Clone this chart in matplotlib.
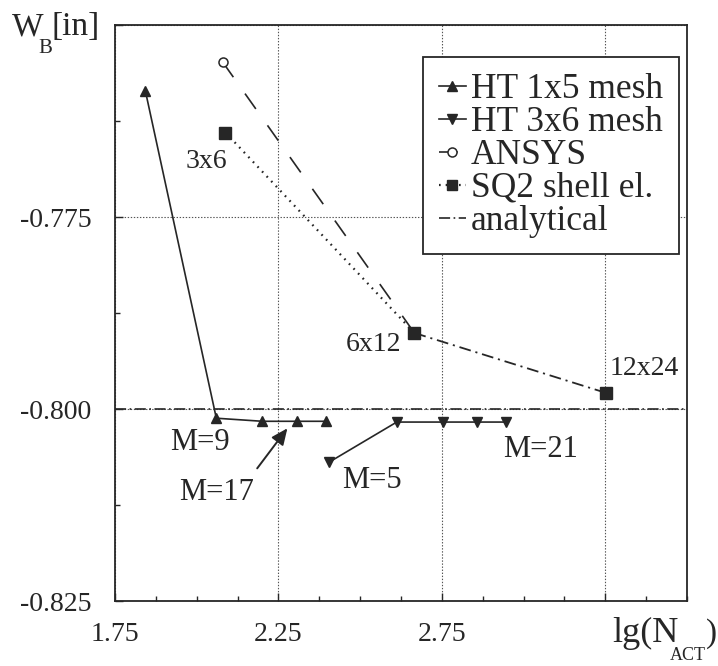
import matplotlib
matplotlib.use("Agg")
import matplotlib.pyplot as plt
from matplotlib.ticker import FixedLocator, FixedFormatter, MultipleLocator
from matplotlib.transforms import offset_copy

plt.rcParams['font.family'] = ['Liberation Serif', 'DejaVu Serif']
plt.rcParams['lines.scale_dashes'] = False

# ---- data -------------------------------------------------------------
ht15_lgn = [1.843, 2.060, 2.201, 2.308, 2.395]
ht15_w = [-0.7586, -0.8012, -0.8016, -0.8016, -0.8016]
ht15_tags = {1: "M=9"}

ht36_lgn = [2.406, 2.612, 2.755, 2.859, 2.947]
ht36_w = [-0.8069, -0.8017, -0.8017, -0.8017, -0.8017]
ht36_tags = {0: "M=5", 4: "M=21"}

ansys_lgn = [2.079, 2.666]
ansys_w = [-0.7548, -0.7901]

sq2_lgn = [2.088, 2.666, 3.252]
sq2_w = [-0.7640, -0.7901, -0.7979]
sq2_mesh = ["3x6", "6x12", "12x24"]

analytical_w = -0.800

x_ticks = [1.75, 2.25, 2.75, 3.25]
x_ticklabels = ["1.75", "2.25", "2.75", ""]
y_ticks = [-0.825, -0.800, -0.775, -0.750]
y_ticklabels = ["-0.825", "-0.800", "-0.775", ""]

# ---- figure -----------------------------------------------------------
W, H = 718, 666
ink = '#262626'
fig = plt.figure(figsize=(W / 100, H / 100), dpi=100)
ax = fig.add_axes([115 / W, 1 - 601 / H, (687 - 115) / W, (601 - 25) / H])
ax.set_xlim(1.75, 3.5)
ax.set_ylim(-0.825, -0.75)

for s in ax.spines.values():
    s.set_linewidth(1.3)
    s.set_color(ink)

ax.xaxis.set_major_locator(FixedLocator(x_ticks))
ax.xaxis.set_major_formatter(FixedFormatter(x_ticklabels))
ax.xaxis.set_minor_locator(MultipleLocator(0.125))
ax.yaxis.set_major_locator(FixedLocator(y_ticks))
ax.yaxis.set_major_formatter(FixedFormatter(y_ticklabels))
ax.yaxis.set_minor_locator(MultipleLocator(0.0125))
ax.tick_params(which='both', direction='in', colors=ink, width=1.0,
               labelsize=20, labelcolor=ink)
ax.tick_params(which='major', length=6)
ax.tick_params(which='minor', length=3.5)
ax.tick_params(axis='x', which='major', pad=15)
ax.tick_params(axis='y', which='major', pad=17)

ax.grid(True, which='major', linestyle=(0, (1, 1.2)), linewidth=0.8,
        color='#555555', zorder=0)
ax.set_axisbelow(True)

# analytical reference
ax.axhline(analytical_w, color=ink, lw=1.2, linestyle=(0, (8, 2.5, 1.2, 2.5)),
           label='analytical', zorder=2)

# HT series
ax.plot(ht15_lgn, ht15_w, color=ink, lw=1.2, marker='^', ms=7.5,
        label='HT 1x5 mesh', zorder=4)
ax.plot(ht36_lgn, ht36_w, color=ink, lw=1.2, marker='v', ms=7.5,
        label='HT 3x6 mesh', zorder=4)

# ANSYS
ax.plot(ansys_lgn, ansys_w, color=ink, lw=1.2, linestyle=(0, (13.5, 14.5)),
        marker='o', ms=6.5, mfc='white', mec=ink, mew=1.1, markevery=[0],
        label='ANSYS', zorder=3)

# SQ2 shell elements
ax.plot(sq2_lgn[:2], sq2_w[:2], color=ink, lw=1.6, linestyle=(0, (1.2, 3.6)),
        zorder=3)
ax.plot(sq2_lgn[1:], sq2_w[1:], color=ink, lw=1.3,
        linestyle=(0, (8.5, 3.5, 1.5, 3.5)), zorder=3)
ax.plot(sq2_lgn, sq2_w, linestyle='none', marker='s', ms=8, color=ink,
        zorder=5)
sq2_handle, = ax.plot([], [], color=ink, lw=1.6, linestyle=(0, (1.2, 3.6)),
                      marker='s', ms=7, label='SQ2 shell el.')

# point labels
txt = dict(color=ink, ha='center', va='center', textcoords='offset pixels')
mesh_offsets = [(-19, -29), (-41, -12), (38, 24)]
for xv, yv, name, off in zip(sq2_lgn, sq2_w, sq2_mesh, mesh_offsets):
    ax.annotate(name, (xv, yv), xytext=off, fontsize=20, **txt)

ht15_off = {1: (-16, -24)}
for i, name in ht15_tags.items():
    ax.annotate(name, (ht15_lgn[i], ht15_w[i]), xytext=ht15_off[i],
                fontsize=22, **txt)
ht36_off = {0: (43, -19), 4: (34, -27)}
for i, name in ht36_tags.items():
    ax.annotate(name, (ht36_lgn[i], ht36_w[i]), xytext=ht36_off[i],
                fontsize=22, **txt)

# M=17 pointer onto the 1x5 curve
tip = offset_copy(ax.transData, fig=fig, x=-10, y=-7, units='dots')
ax.annotate("M=17", (ht15_lgn[3], ht15_w[3]), xycoords=tip,
            xytext=(-71, -64), fontsize=22,
            arrowprops=dict(arrowstyle='-|>,head_length=0.45,head_width=0.2',
                            color=ink, lw=1.4, relpos=(0.95, 1.0),
                            shrinkA=6, shrinkB=0),
            **txt)

# legend
handles, labels = ax.get_legend_handles_labels()
order = ['HT 1x5 mesh', 'HT 3x6 mesh', 'ANSYS', 'SQ2 shell el.', 'analytical']
hmap = dict(zip(labels, handles))
leg = ax.legend([hmap[k] for k in order], order, loc='upper left',
                bbox_to_anchor=((423 - 115) / 572, (601 - 57) / 576),
                borderaxespad=0, fontsize=25.5, numpoints=1,
                handlelength=0.75, handletextpad=0.15, labelspacing=0.0,
                borderpad=0.45, fancybox=False, framealpha=1,
                edgecolor=ink)
leg.get_frame().set_linewidth(1.3)
for t in leg.get_texts():
    t.set_color(ink)

# axis titles
def ftext(x, y, s, size):
    fig.text(x / W, 1 - y / H, s, fontsize=size, color=ink, va='baseline',
             ha='left')

ftext(12, 35, "W", 24)
ftext(38, 53, "B", 15)
ftext(51, 35, "[in]", 24)
ftext(612, 642, "lg(N", 26)
ftext(670, 660, "ACT", 13)
ftext(706, 642, ")", 24)

fig.savefig("out.png", dpi=100, facecolor='white')
